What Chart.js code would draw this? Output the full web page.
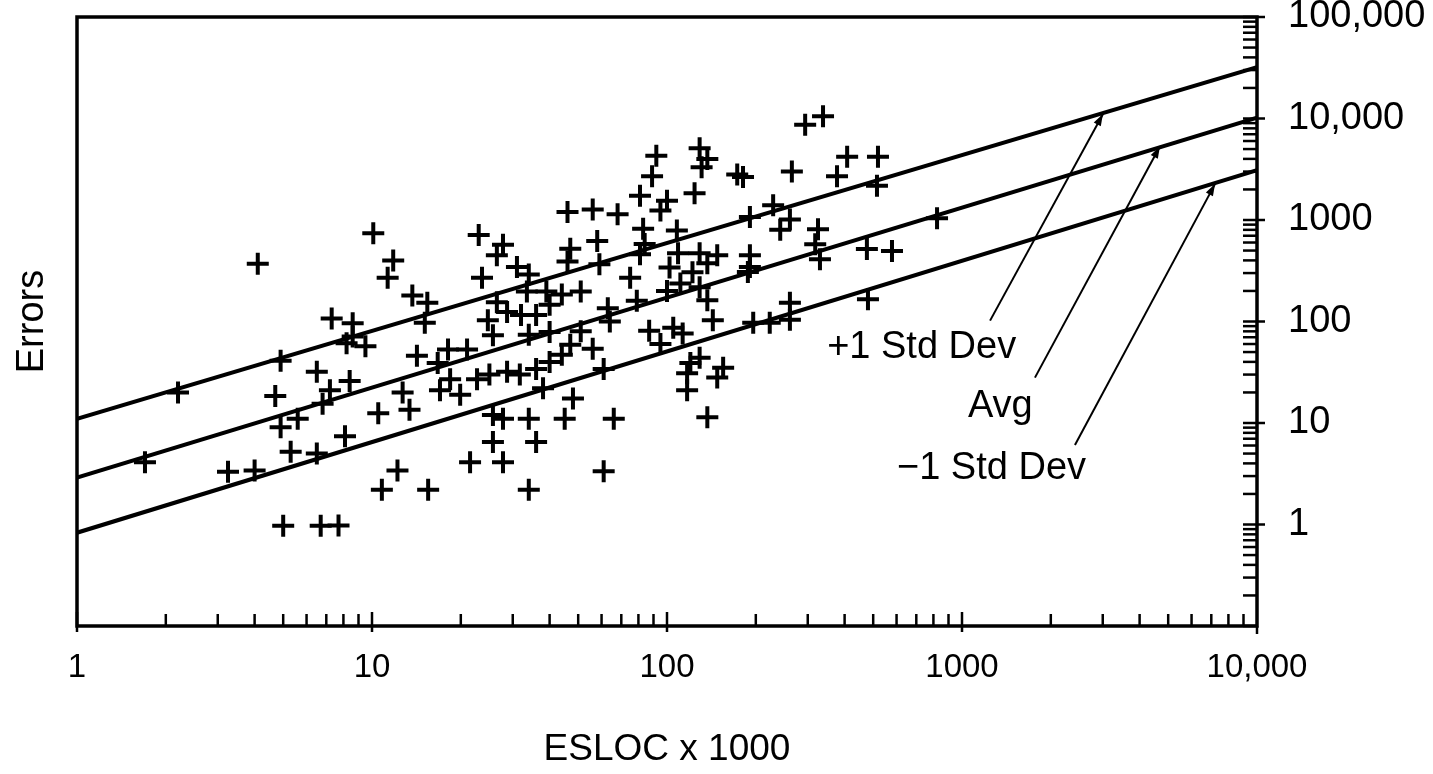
<!DOCTYPE html>
<html>
<head>
<meta charset="utf-8">
<script src="https://cdn.jsdelivr.net/npm/chart.js@4.4.1/dist/chart.umd.min.js"></script>
<style>
  html, body { margin: 0; padding: 0; background: #fff; }
  #wrap { width: 1433px; height: 774px; position: relative; }
</style>
</head>
<body>
<div id="wrap"><canvas id="errChart"></canvas></div>
<script>
// ESLOC (x1000) vs errors, one entry per project
const eslocK = [1.7, 2.2, 4.1, 3.25, 4.0, 5.0, 6.7, 7.7, 4.9, 4.9, 4.7, 5.6, 7.3, 8.6, 8.2, 6.5, 6.8, 7.2, 8.4, 5.3,
  6.5, 8.1, 10.1, 11.8, 11.3, 13.7, 15.4, 15.1, 8.6, 9.5, 10.5, 12.2, 10.8, 15.5, 12.7, 13.4, 14.2, 16.7, 18.1, 21,
  18.4, 19.9, 17, 21.5, 23, 27.8, 26.5, 23.6, 31, 34, 33.5, 39, 26.5, 24.7, 28.7, 32, 36, 40, 44, 25.7,
  34, 40, 25, 28.7, 31.7, 36, 40, 44, 38, 25.7, 27.8, 34, 45, 25.7, 36, 27.8, 34, 46, 56, 68,
  92, 129, 131, 173, 89, 81, 124, 100, 95, 191, 83, 108, 84, 47, 58, 81, 109, 129, 148, 191,
  102, 122, 137, 191, 46, 59, 51, 75, 79, 100, 111, 129, 137, 143, 63, 64, 51, 47, 56, 87,
  95, 105, 113, 129, 117, 117, 155, 148, 61, 48, 66, 137, 196, 294, 338, 408, 519, 265, 377, 515,
  229, 261, 242, 181, 325, 318, 330, 188, 476, 579, 823, 261, 261, 223, 480, 120, 61, 22.7, 137];
const errors = [4.1, 20, 370, 3.3, 3.4, 0.97, 0.97, 0.98, 9.1, 41, 18.5, 11, 107, 96, 61, 32, 15.5, 21, 26, 5.2,
  5.0, 7.4, 740, 400, 270, 180, 153, 97, 71, 57, 12.5, 3.4, 2.2, 2.2, 20, 13.5, 46, 39, 53, 53,
  27, 19, 21, 4.1, 710, 570, 450, 270, 345, 290, 197, 198, 155, 103, 124, 116, 116, 146, 185, 73,
  74, 79, 30, 32, 30, 34, 40, 47, 22, 12, 11, 11, 11, 6.5, 6.5, 4.1, 2.2, 1200, 1270, 1140,
  4300, 5100, 3300, 2800, 2700, 1730, 1830, 1550, 1240, 1070, 820, 790, 580, 520, 620, 460, 470, 470, 450, 450,
  340, 305, 375, 345, 390, 367, 198, 270, 160, 200, 237, 217, 162, 103, 135, 100, 80, 59, 54, 81,
  60, 87, 76, 44, 31, 21, 35, 28, 34, 17.4, 11, 11.4, 97, 8700, 10500, 4200, 4200, 3000, 2700, 2170,
  1400, 1010, 800, 2650, 810, 576, 410, 308, 517, 496, 1040, 153, 104, 97, 166, 39, 3.35, 27, 4000];

// fitted lines (ends at x = 1 and x = 10,000)
const lineX = [1, 10000];
const plusSdY = [11, 32000];
const avgY = [2.9, 10200];
const minusSdY = [0.83, 3100];

const xTicks = [1, 10, 100, 1000, 10000];
const yTicks = [1, 10, 100, 1000, 10000, 100000];

// labels and their leader lines, in data units
const noteText = ['+1 Std Dev', 'Avg', '\u22121 Std Dev'];
const noteX = [349, 1047, 602];
const noteY = [56, 14.7, 3.55];
const leaderFromX = [1245, 1767, 2415];
const leaderFromY = [102, 28, 6.06];
const leaderToX = [3006, 4690, 7210];
const leaderToY = [11100, 5320, 2270];

const FONT = "'Liberation Sans', Arial, sans-serif";

const fmt = v => v >= 10000 ? v.toLocaleString('en-US') : String(v);

const makeLine = (ys) => ({
  data: lineX.map((x, i) => ({x: x, y: ys[i]})),
  showLine: true,
  borderColor: '#000',
  borderWidth: 4,
  pointRadius: 0,
  fill: false
});

const decorPlugin = {
  id: 'decor',
  afterDraw(chart) {
    const {ctx, chartArea: a} = chart;
    const x = chart.scales.x, y = chart.scales.y;
    ctx.save();
    ctx.strokeStyle = '#000';
    ctx.fillStyle = '#000';
    ctx.lineCap = 'butt';

    // frame
    ctx.lineWidth = 3.5;
    ctx.strokeRect(a.left, a.top, a.right - a.left, a.bottom - a.top);

    // x ticks, pointing up into the plot
    ctx.lineWidth = 2.5;
    for (let e = 0; e < 4; e++) {
      for (let m = 1; m <= 9; m++) {
        const px = x.getPixelForValue(m * Math.pow(10, e));
        ctx.beginPath();
        if (m == 1) {
          ctx.moveTo(px, a.bottom + 6);
          ctx.lineTo(px, a.bottom - 14);
        } else {
          ctx.moveTo(px, a.bottom);
          ctx.lineTo(px, a.bottom - 12);
        }
        ctx.stroke();
      }
    }
    ctx.beginPath();
    ctx.moveTo(a.right, a.bottom);
    ctx.lineTo(a.right, a.bottom + 8);
    ctx.stroke();

    // y ticks on the right, pointing left into the plot
    for (let e = -1; e < 5; e++) {
      for (let m = 1; m <= 9; m++) {
        const py = y.getPixelForValue(m * Math.pow(10, e));
        ctx.beginPath();
        if (m == 1 && e >= 0) {
          ctx.moveTo(a.right + 8, py);
          ctx.lineTo(a.right - 14, py);
        } else {
          ctx.moveTo(a.right, py);
          ctx.lineTo(a.right - 14, py);
        }
        ctx.stroke();
      }
    }
    ctx.beginPath();
    ctx.moveTo(a.right + 8, a.top);
    ctx.lineTo(a.right - 14, a.top);
    ctx.stroke();

    // leader lines with arrow heads
    ctx.lineWidth = 2;
    for (let i = 0; i < noteText.length; i++) {
      const x0 = x.getPixelForValue(leaderFromX[i]), y0 = y.getPixelForValue(leaderFromY[i]);
      const x1 = x.getPixelForValue(leaderToX[i]), y1 = y.getPixelForValue(leaderToY[i]);
      ctx.beginPath();
      ctx.moveTo(x0, y0);
      ctx.lineTo(x1, y1);
      ctx.stroke();
      const ang = Math.atan2(y1 - y0, x1 - x0);
      ctx.beginPath();
      ctx.moveTo(x1, y1);
      ctx.lineTo(x1 - 12 * Math.cos(ang) + 4 * Math.sin(ang), y1 - 12 * Math.sin(ang) - 4 * Math.cos(ang));
      ctx.lineTo(x1 - 12 * Math.cos(ang) - 4 * Math.sin(ang), y1 - 12 * Math.sin(ang) + 4 * Math.cos(ang));
      ctx.closePath();
      ctx.fill();
    }

    // labels
    ctx.font = '38px ' + FONT;
    ctx.textAlign = 'left';
    ctx.textBaseline = 'middle';
    for (let i = 0; i < noteText.length; i++) {
      ctx.fillText(noteText[i], x.getPixelForValue(noteX[i]), y.getPixelForValue(noteY[i]));
    }
    ctx.restore();
  }
};

const ctxEl = document.getElementById('errChart');
const errChart = new Chart(ctxEl, {
  type: 'scatter',
  data: {
    datasets: [
      {
        data: eslocK.map((v, i) => ({x: v, y: errors[i]})),
        pointStyle: 'cross',
        pointRadius: 11,
        pointHoverRadius: 11,
        pointBorderWidth: 4,
        borderColor: '#000',
        backgroundColor: '#000'
      },
      makeLine(plusSdY),
      makeLine(avgY),
      makeLine(minusSdY)
    ]
  },
  options: {
    responsive: true,
    maintainAspectRatio: false,
    animation: false,
    layout: { padding: { top: 17, left: 0, right: 0, bottom: 0 } },
    plugins: {
      legend: { display: false },
      tooltip: { enabled: false }
    },
    scales: {
      x: {
        type: 'logarithmic',
        position: 'bottom',
        min: 1,
        max: 10000,
        grid: { display: false, drawTicks: false },
        border: { display: false },
        afterBuildTicks: s => { s.ticks = xTicks.map(v => ({value: v})); },
        afterFit: s => { s.height = 148; s.paddingLeft = 0; s.paddingRight = 0; },
        ticks: {
          autoSkip: false,
          maxRotation: 0,
          padding: 22,
          color: '#000',
          font: { family: FONT, size: 33 },
          callback: v => fmt(v)
        },
        title: {
          display: true,
          text: 'ESLOC x 1000',
          color: '#000',
          font: { family: FONT, size: 37 },
          padding: { top: 0, bottom: 2 }
        }
      },
      y: {
        type: 'logarithmic',
        position: 'right',
        min: 0.1,
        max: 100000,
        grid: { display: false, drawTicks: false },
        border: { display: false },
        afterBuildTicks: s => { s.ticks = yTicks.map(v => ({value: v})); },
        afterFit: s => { s.width = 176; s.paddingTop = 0; s.paddingBottom = 0; },
        ticks: {
          autoSkip: false,
          padding: 31,
          color: '#000',
          font: { family: FONT, size: 38 },
          callback: v => fmt(v)
        }
      },
      yLeft: {
        type: 'logarithmic',
        position: 'left',
        min: 0.1,
        max: 100000,
        grid: { display: false, drawTicks: false },
        border: { display: false },
        ticks: { display: false },
        afterFit: s => { s.width = 77; s.paddingTop = 0; s.paddingBottom = 0; },
        title: {
          display: true,
          text: 'Errors',
          color: '#000',
          font: { family: FONT, size: 38 },
          padding: { top: 10, bottom: 0 }
        }
      }
    }
  },
  plugins: [decorPlugin]
});
</script>
</body>
</html>
